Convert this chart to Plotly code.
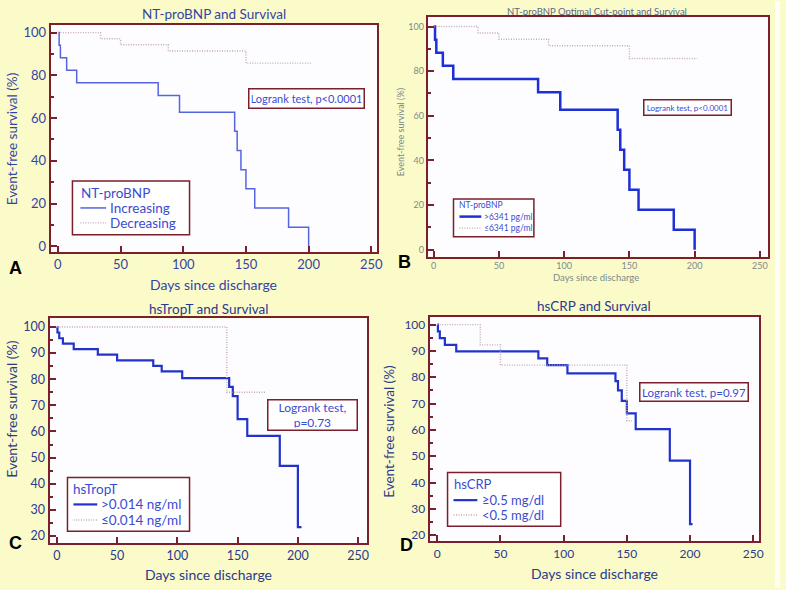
import plotly.graph_objects as go

W, H = 786, 590

# ---------------- data ----------------
# Panel A: NT-proBNP trend
a_inc_days = [0, 1, 2, 7, 15, 80, 97, 141, 143, 146, 150, 157, 184, 200]
a_inc_surv = [100, 94.1, 88.2, 82.4, 76.5, 70.6, 62.7, 53.8, 44.8, 35.8, 26.9, 17.9, 9.0, 0]
a_dec_days = [0, 34, 50, 88, 150, 202]
a_dec_surv = [100, 97.1, 94.3, 91.4, 85.7, 85.7]

# Panel B: NT-proBNP optimal cut-point
b_hi_days = [0, 1, 2, 7, 15, 80, 97, 141, 143, 146, 150, 157, 184, 200]
b_hi_surv = [100, 94.1, 88.2, 82.4, 76.5, 70.6, 62.7, 53.8, 44.8, 35.8, 26.9, 17.9, 9.0, 0]
b_lo_days = [0, 34, 50, 88, 150, 202]
b_lo_surv = [100, 97.1, 94.3, 91.4, 85.7, 85.7]

# Panel C: hsTropT
c_hi_days = [0, 0.5, 2, 5, 14, 34, 50, 80, 87, 104, 143, 146, 150, 158, 185, 200, 203]
c_hi_surv = [100, 97.9, 95.7, 93.6, 91.5, 89.4, 87.2, 85.1, 83.0, 80.4, 77.1, 73.5, 64.7, 58.3, 46.8, 23.4, 23.4]
c_lo_days = [0, 141, 174]
c_lo_surv = [100, 75, 75]

# Panel D: hsCRP
d_hi_days = [0, 0.5, 2, 6, 15, 80, 87, 103, 141, 143, 146, 150, 157, 184, 200, 202]
d_hi_surv = [100, 97.4, 94.9, 92.3, 89.8, 87.2, 84.6, 81.5, 78.5, 75.0, 71.0, 66.3, 60.3, 48.3, 24.2, 24.2]
d_lo_days = [0, 34, 50, 150, 154]
d_lo_surv = [100, 92.3, 84.6, 63.5, 63.5]

x_ticks = [0, 50, 100, 150, 200, 250]

# ---------------- styles ----------------
FONT = "Lato"
MAROON = "#7A1F2B"
BLUE_TXT = "#3444A6"
DARK_TXT = "#2A3A8C"
GRAY_TXT = "#7D8A8C"
LEG_TXT = "#3B4BD0"
DOT = "#C4A8B4"
DOT_DASH = "1px,1.5px"
YELLOW = "#FBFBC9"


def px_x(p):
    return p / W


def px_y(p):
    return 1 - p / H


fig = go.Figure()

panels = [
    dict(k="", box=(51, 380, 24, 252), xr=[-5.8, 254.6], yr=[-2.5, 103.6], dt=20, mdt=10,
         tfs=13, tcol=BLUE_TXT),
    dict(k="2", box=(431, 774, 16, 257), xr=[-4.6, 256.3], yr=[-3.1, 104.3], dt=20, mdt=10,
         tfs=9, tcol=GRAY_TXT),
    dict(k="3", box=(50, 370, 319, 545), xr=[-6, 257.5], yr=[17.2, 103.3], dt=10, mdt=5,
         tfs=12.5, tcol=DARK_TXT),
    dict(k="4", box=(433, 765, 318, 543), xr=[-6, 254.7], yr=[17.7, 102.75], dt=10, mdt=5,
         tfs=12, tcol=DARK_TXT),
]

for p in panels:
    l, r, t, b = p["box"]
    k = p["k"]
    fig.layout["xaxis" + k] = dict(
        domain=[px_x(l), px_x(r)], range=p["xr"], anchor="y" + k,
        tickvals=x_ticks, ticks="inside", ticklen=6, tickwidth=2, tickcolor=MAROON,
        showline=True, linecolor=MAROON, linewidth=2, mirror=True,
        showgrid=False, zeroline=False, fixedrange=True,
        tickfont=dict(family=FONT, size=p["tfs"], color=p["tcol"]),
    )
    fig.layout["yaxis" + k] = dict(
        domain=[px_y(b), px_y(t)], range=p["yr"], anchor="x" + k,
        dtick=p["dt"], tick0=0, ticks="inside", ticklen=6, tickwidth=2, tickcolor=MAROON,
        minor=dict(dtick=p["mdt"], ticks="inside", ticklen=3, tickwidth=1.5, tickcolor=MAROON),
        showline=True, linecolor=MAROON, linewidth=2, mirror=True,
        showgrid=False, zeroline=False, fixedrange=True, ticklabelstandoff=0,
        tickfont=dict(family=FONT, size=p["tfs"], color=p["tcol"]),
    )

# ---------------- traces ----------------
def add(x, y, name, ax, color, width, dash):
    fig.add_trace(go.Scatter(
        x=x, y=y, mode="lines", line=dict(color=color, width=width, dash=dash, shape="hv"),
        name=name, xaxis="x" + ax, yaxis="y" + ax, showlegend=False,
        hoverinfo="skip"))


A_BLUE, B_BLUE, CD_BLUE = "#5565E0", "#1F2FD6", "#2233CC"

add(a_inc_days, a_inc_surv, "Increasing", "", A_BLUE, 1.5, "solid")
add(a_dec_days, a_dec_surv, "Decreasing", "", DOT, 1.4, DOT_DASH)
add(b_hi_days, b_hi_surv, ">6341 pg/ml", "2", B_BLUE, 2.5, "solid")
add(b_lo_days, b_lo_surv, "≤6341 pg/ml", "2", DOT, 1.4, DOT_DASH)
add(c_hi_days, c_hi_surv, ">0.014 ng/ml", "3", CD_BLUE, 2.2, "solid")
add(c_lo_days, c_lo_surv, "≤0.014 ng/ml", "3", DOT, 1.4, DOT_DASH)
add(d_hi_days, d_hi_surv, "≥0.5 mg/dl", "4", CD_BLUE, 2.2, "solid")
add(d_lo_days, d_lo_surv, "<0.5 mg/dl", "4", DOT, 1.4, DOT_DASH)

# ---------------- annotations / shapes ----------------
ann = []
shapes = [dict(type="rect", xref="paper", yref="paper", x0=px_x(781), x1=1, y0=0, y1=1,
               fillcolor="#FEFEF4", line=dict(width=0), layer="below")]


def text(s, x, y, size, color, angle=0, bold=False, family=FONT, xanchor="center"):
    ann.append(dict(text=("<b>%s</b>" % s) if bold else s, x=px_x(x), y=px_y(y),
                    xref="paper", yref="paper", showarrow=False, textangle=angle,
                    xanchor=xanchor, yanchor="middle",
                    font=dict(family=family, size=size, color=color)))


def box(s, cx, cy, w, h, size):
    ann.append(dict(text=s, x=px_x(cx), y=px_y(cy), xref="paper", yref="paper",
                    showarrow=False, xanchor="center", yanchor="middle",
                    width=w, height=h, align="center", bgcolor="white",
                    bordercolor=MAROON, borderwidth=1.5, borderpad=2,
                    font=dict(family=FONT, size=size, color=LEG_TXT)))


def legend(rect, title, title_pos, rows, line_x, text_x, size, styles):
    x0, y0, x1, y1 = rect
    shapes.append(dict(type="rect", xref="paper", yref="paper",
                       x0=px_x(x0), x1=px_x(x1), y0=px_y(y1), y1=px_y(y0),
                       fillcolor="white", line=dict(color=MAROON, width=1.5)))
    text(title, title_pos[0], title_pos[1], size, LEG_TXT, xanchor="left")
    for (label, yy), (col, wd, dash) in zip(rows, styles):
        shapes.append(dict(type="line", xref="paper", yref="paper",
                           x0=px_x(line_x[0]), x1=px_x(line_x[1]), y0=px_y(yy), y1=px_y(yy),
                           line=dict(color=col, width=wd, dash=dash)))
        text(label, text_x, yy, size, LEG_TXT, xanchor="left")


legend((73, 181, 191, 235), "NT-proBNP", (80, 192.5),
       [("Increasing", 208), ("Decreasing", 223)], (81, 107), 109, 13.5,
       [(A_BLUE, 1.5, "solid"), (DOT, 1.4, DOT_DASH)])
legend((457, 199, 538, 237), "NT-proBNP", (461, 205.5),
       [(">6341 pg/ml", 216.7), ("≤6341 pg/ml", 228.3)], (463, 485), 486, 8.5,
       [(B_BLUE, 2.5, "solid"), (DOT, 1.2, DOT_DASH)])
legend((68, 479, 191, 533), "hsTropT", (72, 490),
       [(">0.014 ng/ml", 506), ("≤0.014 ng/ml", 521.7)], (74, 98), 100, 13.5,
       [(CD_BLUE, 2.2, "solid"), (DOT, 1.4, DOT_DASH)])
legend((451, 474, 565, 528), "hsCRP", (455, 485),
       [("≥0.5 mg/dl", 501.7), ("<0.5 mg/dl", 516.7)], (457, 481), 484, 13,
       [(CD_BLUE, 2.2, "solid"), (DOT, 1.4, DOT_DASH)])

# titles
text("NT-proBNP and Survival", 215.7, 13.3, 13.5, BLUE_TXT)
text("NT-proBNP Optimal Cut-point and Survival", 601.7, 10.7, 9.5, "#5A6888")
text("hsTropT and Survival", 210, 310, 13.5, DARK_TXT)
text("hsCRP and Survival", 598.7, 306.7, 13.5, DARK_TXT)

# axis titles
text("Days since discharge", 215, 285, 14, BLUE_TXT)
text("Event-free survival (%)", 12, 139, 13.5, BLUE_TXT, angle=-90)
text("Days since discharge", 601, 278, 9.5, GRAY_TXT)
text("Event-free survival (%)", 403, 132, 9, GRAY_TXT, angle=-90)
text("Days since discharge", 210, 576, 14, DARK_TXT)
text("Event-free survival (%)", 12, 410, 14, DARK_TXT, angle=-90)
text("Days since discharge", 598.7, 575, 14, DARK_TXT)
text("Event-free survival (%)", 392, 433, 13.5, DARK_TXT, angle=-90)

# panel letters
text("A", 16, 268, 18, "black", bold=True, family="Liberation Sans")
text("B", 407.5, 262, 18, "black", bold=True, family="Liberation Sans")
text("C", 16, 545, 18, "black", bold=True, family="Liberation Sans")
text("D", 410, 546.5, 18, "black", bold=True, family="Liberation Sans")

# log-rank boxes
box("Logrank test, p<0.0001", 309.2, 98.3, 110, 14, 11)
box("Logrank test, p<0.0001", 692.7, 106.7, 82, 10, 8)
box("Logrank test,<br>p=0.73", 315.3, 415.9, 84, 25, 12)
box("Logrank test, p=0.97", 699, 393.3, 103, 13, 11.5)

fig.update_layout(
    width=W, height=H, margin=dict(l=0, r=0, t=0, b=0),
    paper_bgcolor=YELLOW, plot_bgcolor="#FDFDFF",
    annotations=ann, shapes=shapes,
)

fig.write_html(
    "out.html",
    config={"displayModeBar": False},
    post_script="document.body.style.margin='0';document.body.style.padding='0';"
                "document.body.style.overflow='hidden';",
)
